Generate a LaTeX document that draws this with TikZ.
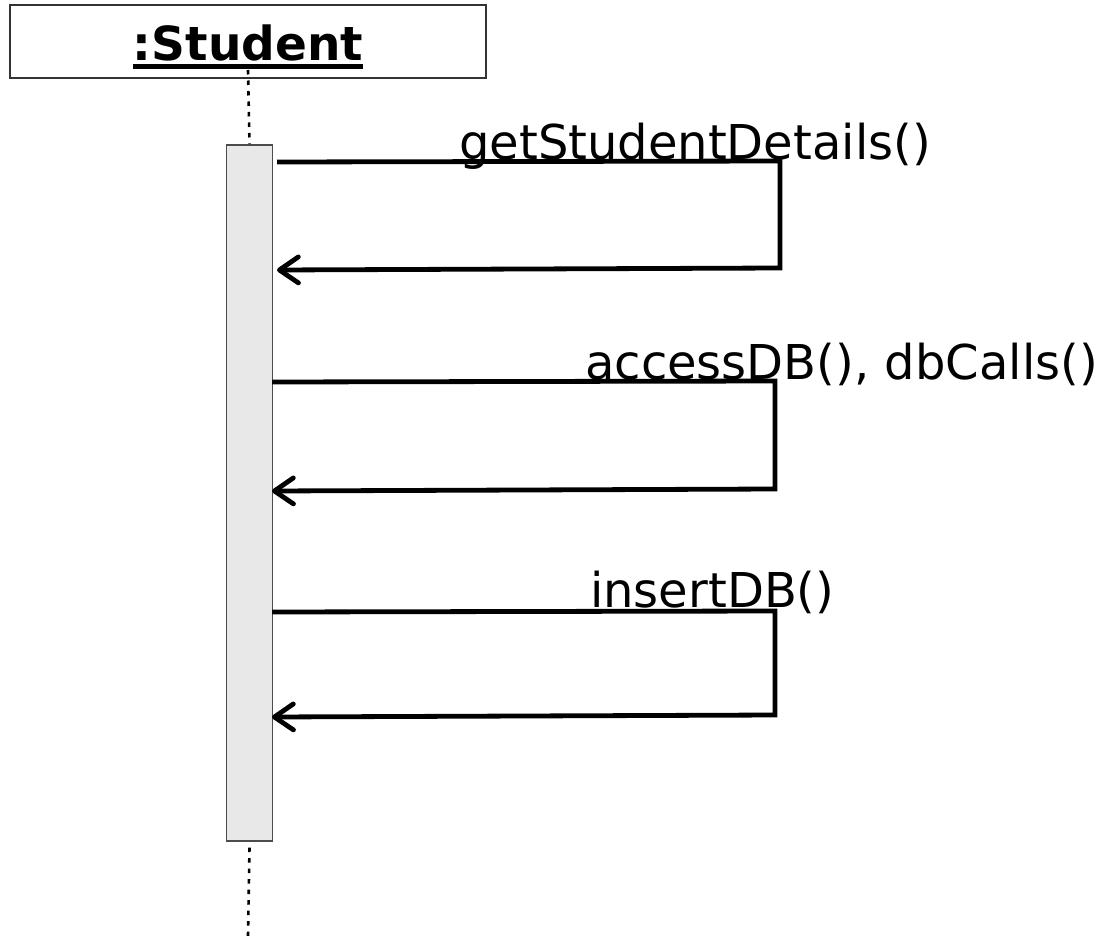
\documentclass[tikz,border=0pt]{standalone}
\usepackage{fontspec}
\setmainfont{DejaVu Sans}
\usetikzlibrary{arrows.meta}
\begin{document}
\begin{tikzpicture}[x=1pt,y=-1pt,
  objbox/.style={draw=black!80,line width=1.4pt,fill=white},
  actbar/.style={draw=black!70,line width=1.6pt,fill=black!9},
  lifeline/.style={line width=2.6pt,dash pattern=on 4.5pt off 6pt},
  msg/.style={line width=4.8pt,line join=miter},
  ret/.style={msg,-{Straight Barb[length=19pt,width=26pt,line cap=round,line join=round]}},
  lbl/.style={font=\fontsize{48}{52}\selectfont,anchor=base west,inner sep=0pt}]
\useasboundingbox (0,0) rectangle (1108,936);

% object head
\draw[objbox] (10,5) rectangle (486,78);
\node[font=\bfseries\fontsize{47}{50}\selectfont,anchor=base,inner sep=0pt] (title) at (248,61) {:Student};
\draw[line width=4.2pt] ([yshift=-5.5pt]title.base west) -- ([yshift=-5.5pt]title.base east);

% lifeline and activation
\coordinate (lifetop) at (248,70);
\coordinate (lifeend) at (248,936);
\node[actbar,minimum width=46pt,minimum height=696pt,inner sep=0pt,anchor=north] (bar) at (249.5,144) {};
\draw[lifeline] (lifetop) -- (bar.north);
\draw[lifeline] (bar.south) ++(0,6) coordinate (lifelow) (lifelow) -- (lifeend);

% self messages
\coordinate (m1a) at (277,162);
\coordinate (m1b) at (780,161);
\coordinate (m1c) at (780,268);
\coordinate (m1d) at (277,270);
\draw[ret] (m1a) -- (m1b) -- (m1c) -- (m1d);
\node[lbl] (l1) at (459,159.5) {getStudentDetails()};

\coordinate (m2a) at (272,382);
\coordinate (m2b) at (775,381);
\coordinate (m2c) at (775,489);
\coordinate (m2d) at (272,491);
\draw[ret] (m2a) -- (m2b) -- (m2c) -- (m2d);
\node[lbl] (l2) at (585,379) {accessDB(), dbCalls()};

\coordinate (m3a) at (272,612);
\coordinate (m3b) at (775,611);
\coordinate (m3c) at (775,715);
\coordinate (m3d) at (272,717);
\draw[ret] (m3a) -- (m3b) -- (m3c) -- (m3d);
\node[lbl] (l3) at (590,607.5) {insertDB()};
\end{tikzpicture}
\end{document}
